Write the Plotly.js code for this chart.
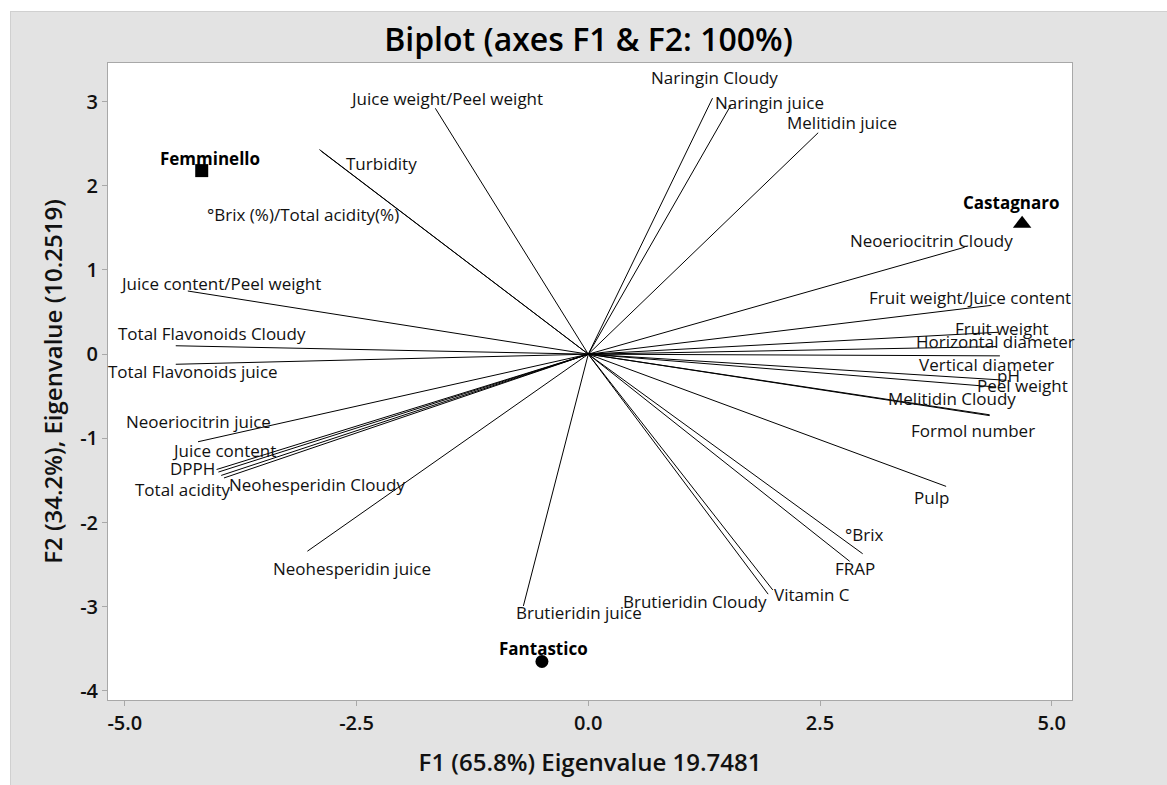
<!DOCTYPE html>
<html><head><meta charset="utf-8">
<script src="https://cdn.plot.ly/plotly-3.0.1.min.js"></script>
<style>
body{margin:0;background:#fff;}
#frame{position:absolute;left:10px;top:11px;width:1157px;height:774px;background:#e3e3e3;box-shadow:inset 1px 1px 0 #d0d0d0;}
#chart{position:absolute;left:0;top:0;width:1157px;height:774px;}
</style>
</head><body><div id="frame"><div id="chart"></div></div>
<script>
// Variables (loadings, scaled) on F1/F2
const variables = ["Juice weight/Peel weight","Turbidity","°Brix (%)/Total acidity(%)","Juice content/Peel weight",
  "Total Flavonoids Cloudy","Total Flavonoids juice","Neoeriocitrin juice","Juice content","DPPH","Total acidity",
  "Neohesperidin Cloudy","Neohesperidin juice","Brutieridin juice","Brutieridin Cloudy","Vitamin C","FRAP","°Brix",
  "Pulp","Formol number","Melitidin Cloudy","Peel weight","pH","Vertical diameter","Horizontal diameter",
  "Fruit weight","Fruit weight/Juice content","Neoeriocitrin Cloudy","Melitidin juice","Naringin juice","Naringin Cloudy"];
const varF1 = [-1.65,-2.90,-2.88,-4.32,-4.45,-4.45,-4.21,-4.01,-3.99,-3.96,-3.93,-3.03,-0.70,1.94,1.99,2.82,2.96,
  3.86,4.33,4.33,4.40,4.51,4.44,4.40,4.42,4.35,4.06,2.48,1.54,1.34];
const varF2 = [2.92,2.43,2.41,0.75,0.10,-0.12,-1.04,-1.37,-1.40,-1.44,-1.47,-2.34,-2.99,-2.85,-2.80,-2.46,-2.37,
  -1.57,-0.73,-0.72,-0.39,-0.31,-0.02,0.09,0.26,0.58,1.27,2.63,2.96,3.04];

// Observations
const observations = ["Femminello","Castagnaro","Fantastico"];
const obsF1 = [-4.17, 4.68, -0.50];
const obsF2 = [2.18, 1.55, -3.65];
const obsSymbols = ["square","triangle-up","circle"];

// Tick labels
const xTickVals = [-5, -2.5, 0, 2.5, 5];
const xTickText = ["-5.0","-2.5","0.0","2.5","5.0"];
const yTickVals = [-4,-3,-2,-1,0,1,2,3];
const yTickText = ["-4","-3","-2","-1","0","1","2","3"];

// Label placement offsets (pixels) — layout only
const varLabelDx = [11,62,-18,33,36,17,0,7,-26,-39,93,45,56,-73,39,5,2,-15,-17,-38,26,2,-13,-1,4,-22,-33,24,38,2];
const varLabelDy = [-10,14,63,-8,-12,7,-20,-19,-4,14,7,17,7,7,5,7,-19,11,15,-16,-2,-5,9,-5,-4,-8,-7,-10,-2,-21];
const obsLabelDx = [8,-11,2];
const obsLabelDy = [-12,-21,-13];

const FONT = '"Open Sans", "Noto Sans", sans-serif';

const lx = [], ly = [];
for (let i = 0; i < variables.length; i++) {
  lx.push(0, varF1[i], null);
  ly.push(0, varF2[i], null);
}
const traces = [{
  x: lx, y: ly, mode: 'lines', type: 'scatter',
  line: {color: '#000', width: 1}, hoverinfo: 'skip', showlegend: false
}];
for (let i = 0; i < observations.length; i++) {
  traces.push({
    x: [obsF1[i]], y: [obsF2[i]], mode: 'markers', type: 'scatter', name: observations[i],
    marker: {symbol: obsSymbols[i], color: '#000', size: obsSymbols[i] === 'triangle-up' ? 16 : 13},
    showlegend: false
  });
}

const annotations = [];
for (let i = 0; i < variables.length; i++) {
  annotations.push({
    x: varF1[i], y: varF2[i], xref: 'x', yref: 'y', text: variables[i], showarrow: false,
    xanchor: 'center', yanchor: 'middle', xshift: varLabelDx[i], yshift: -varLabelDy[i],
    font: {family: FONT, size: 17, color: '#111'}
  });
}
for (let i = 0; i < observations.length; i++) {
  annotations.push({
    x: obsF1[i], y: obsF2[i], xref: 'x', yref: 'y', text: '<b>' + observations[i] + '</b>', showarrow: false,
    xanchor: 'center', yanchor: 'middle', xshift: obsLabelDx[i], yshift: -obsLabelDy[i],
    font: {family: FONT, size: 17, color: '#000'}
  });
}

const axisCommon = {
  showline: true, mirror: true, linecolor: '#a8a8a8', linewidth: 1,
  ticks: 'outside', ticklen: 5, tickcolor: '#a8a8a8', tickwidth: 1,
  showgrid: false, zeroline: false,
  tickfont: {family: FONT, size: 20, weight: 600, color: '#111'}
};

const layout = {
  width: 1157, height: 774,
  paper_bgcolor: 'rgba(0,0,0,0)', plot_bgcolor: '#ffffff',
  margin: {l: 98, r: 95, t: 52, b: 85},
  title: {text: 'Biplot (axes F1 & F2: 100%)', x: 0.5, xanchor: 'center', y: 0.9625, yanchor: 'middle',
    font: {family: FONT, size: 32, weight: 600, color: '#000'}},
  xaxis: Object.assign({}, axisCommon, {
    range: [-5.181, 5.218], tickvals: xTickVals, ticktext: xTickText,
    title: {text: 'F1 (65.8%) Eigenvalue 19.7481', standoff: 19,
      font: {family: FONT, size: 24, weight: 600, color: '#111'}}
  }),
  yaxis: Object.assign({}, axisCommon, {
    range: [-4.107, 3.458], tickvals: yTickVals, ticktext: yTickText,
    title: {text: 'F2 (34.2%), Eigenvalue (10.2519)', standoff: 10,
      font: {family: FONT, size: 24, weight: 600, color: '#111'}}
  }),
  annotations: annotations,
  showlegend: false
};

Plotly.newPlot('chart', traces, layout, {displayModeBar: false, staticPlot: true});
</script>
</body></html>
